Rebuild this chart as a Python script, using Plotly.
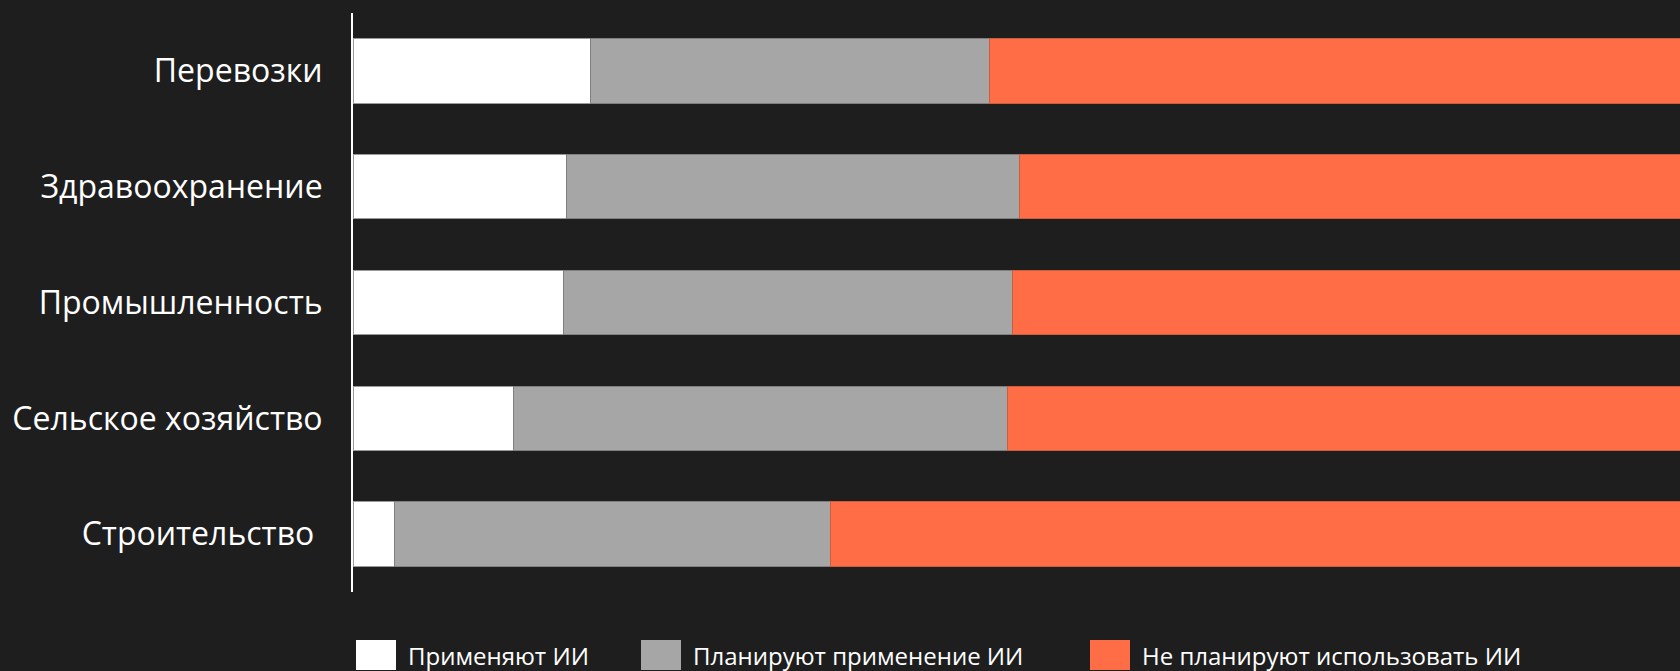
import plotly.graph_objects as go

categories = ["Перевозки", "Здравоохранение", "Промышленность", "Сельское хозяйство", "Строительство\u00a0"]
series_names = ["Применяют ИИ", "Планируют применение ИИ", "Не планируют использовать ИИ"]
apply_ai = [17.9, 16.1, 15.9, 12.1, 3.1]
plan_ai = [30.1, 34.1, 33.8, 37.2, 32.9]
no_ai = [52.0, 49.8, 50.3, 50.7, 64.0]

colors = ["#FFFFFF", "#A6A6A6", "#FF6D46"]
edge_colors = ["#9a9a9a", "#7f7f7f", "#C8603F"]

W, H = 1680, 671
ML, MR, MT, MB = 353, 0, 13, 79
PW, PH = W - ML - MR, H - MT - MB

fig = go.Figure()
for name, vals, c, ec in zip(series_names, [apply_ai, plan_ai, no_ai], colors, edge_colors):
    fig.add_trace(go.Bar(
        y=categories, x=vals, name=name, orientation="h",
        marker=dict(color=c, line=dict(color=ec, width=1)),
        showlegend=False,
    ))

# custom legend (large square swatches like the original)
legend_swatch_x = [356, 641, 1090]
sw_w, sw_top, sw_bot = 40, 640, 670
text_y = 655
shapes = []
annotations = []
for name, c, sx in zip(series_names, colors, legend_swatch_x):
    shapes.append(dict(
        type="rect", xref="paper", yref="paper",
        x0=(sx - ML) / PW, x1=(sx + sw_w - ML) / PW,
        y0=(H - MB - sw_bot) / PH, y1=(H - MB - sw_top) / PH,
        fillcolor=c, line=dict(width=0),
    ))
    annotations.append(dict(
        text=name, xref="paper", yref="paper",
        x=(sx + sw_w + 10 - ML) / PW, y=(H - MB - text_y) / PH,
        xanchor="left", yanchor="middle", showarrow=False,
        font=dict(family="Open Sans", size=24, color="#FFFFFF"),
    ))

fig.update_layout(
    width=W, height=H,
    margin=dict(l=ML, r=MR, t=MT, b=MB, pad=0),
    barmode="stack",
    bargap=0.444,
    paper_bgcolor="#1E1E1E",
    plot_bgcolor="#1E1E1E",
    font=dict(family="Open Sans", color="#FFFFFF"),
    xaxis=dict(range=[0, 100], visible=False, fixedrange=True),
    yaxis=dict(
        autorange="reversed",
        showline=True, linecolor="#FFFFFF", linewidth=2,
        showgrid=False, zeroline=False, fixedrange=True,
        ticks="", ticklabelstandoff=22,
        tickfont=dict(family="Open Sans", size=32, color="#FFFFFF"),
    ),
    shapes=shapes,
    annotations=annotations,
)

fig.write_html(
    "out.html",
    config={"displayModeBar": False, "staticPlot": True},
    post_script="document.body.style.margin='0';document.body.style.padding='0';"
                "document.body.style.background='#1E1E1E';"
                "document.documentElement.style.background='#1E1E1E';"
                "document.body.style.overflow='hidden';",
)
